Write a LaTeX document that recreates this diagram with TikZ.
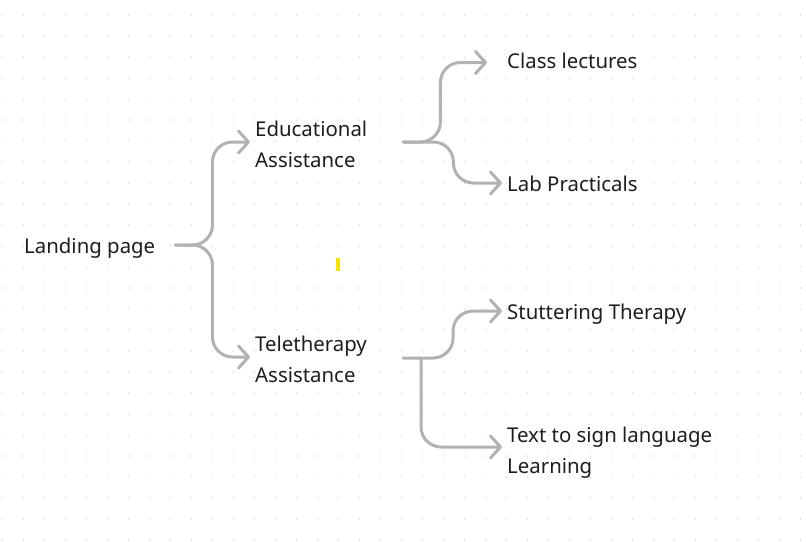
\documentclass[tikz,border=0pt]{standalone}
\usepackage{fontspec}
\setmainfont{Noto Sans}
\usepackage{xcolor}
\usetikzlibrary{arrows.meta}

\definecolor{linkgray}{HTML}{B2B2B2}
\definecolor{textdark}{HTML}{1E1E1E}
\definecolor{dotgray}{HTML}{DCDCDC}
\definecolor{cursoryellow}{HTML}{F5E400}

\begin{document}
\begin{tikzpicture}[x=1pt, y=-1pt,
  item/.style={anchor=west, inner sep=0pt, align=left, text=textdark,
    font=\fontsize{20.4}{31}\selectfont},
  link/.style={draw=linkgray, line width=3pt, rounded corners=20pt, line cap=round,
    -{Straight Barb[length=10pt, width=22pt, line cap=round, line join=round]}}]
  \fill[white] (0,0) rectangle (806,541);
  \useasboundingbox (0,0) rectangle (806,541);
  % dotted canvas
  \foreach \i in {0,...,38}
    \foreach \j in {0,...,25}
      \fill[dotgray] (2.5+21*\i, 15+21*\j) circle (0.9pt);

  \node[item] (land) at (24,248) {Landing page};
  \node[item] (edu) at (255,144) {Educational\\Assistance};
  \node[item] (tele) at (255,359) {Teletherapy\\Assistance};
  \node[item] (class) at (507,61) {Class lectures};
  \node[item] (lab) at (507,184) {Lab Practicals};
  \node[item] (stut) at (507,314) {Stuttering Therapy};
  \node[item] (sign) at (507,453) {Text to sign language\\Learning};

  \draw[link] ([xshift=20pt, yshift=3pt]land.east) -- ++(37,0) |- ([xshift=-5pt, yshift=2pt]edu.west);
  \draw[link] ([xshift=20pt, yshift=3pt]land.east) -- ++(37,0) |- ([xshift=-5pt, yshift=2pt]tele.west);

  \draw[link] ([xshift=36pt, yshift=2pt]edu.east) -- ++(37,0) |- ([xshift=-20pt, yshift=-1.5pt]class.west);
  \draw[link] ([xshift=36pt, yshift=2pt]edu.east) -- ++(50,0) |- ([xshift=-5pt, yshift=1pt]lab.west);

  \draw[link] ([xshift=36pt, yshift=1pt]tele.east) -- ++(50,0) |- ([xshift=-5pt, yshift=3pt]stut.west);
  \draw[link] ([xshift=54pt, yshift=1pt]tele.east) |- ([xshift=-5pt, yshift=6pt]sign.west);

  % text cursor
  \fill[cursoryellow] (336,258) rectangle (340,271);
\end{tikzpicture}
\end{document}
